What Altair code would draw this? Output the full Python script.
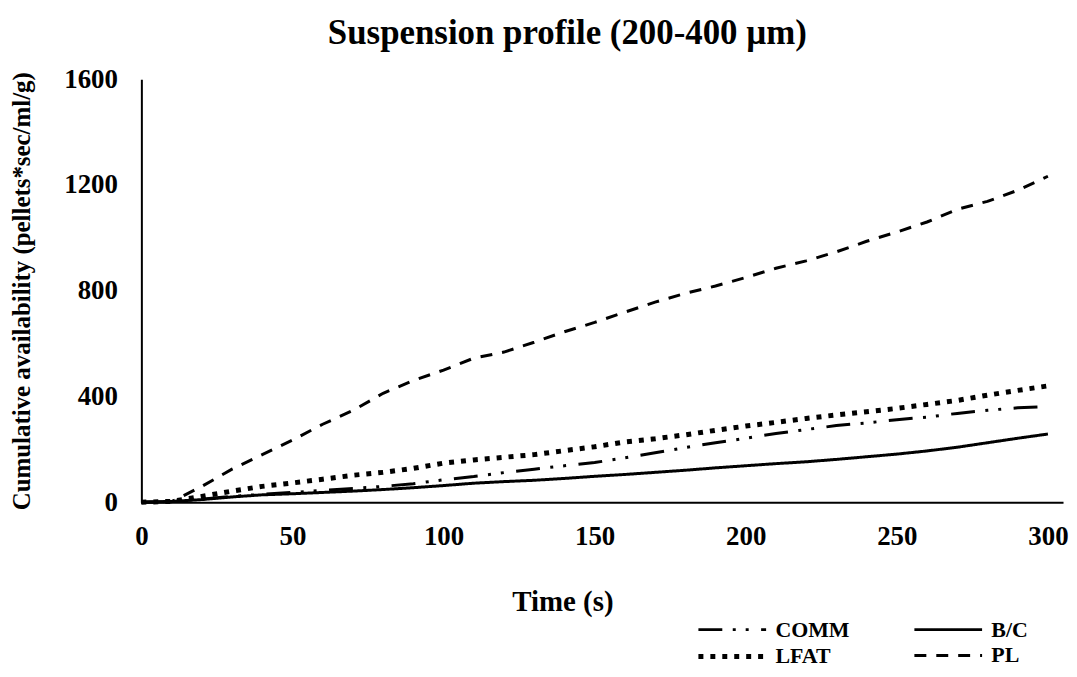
import altair as alt
import pandas as pd

times = [0, 10, 20, 30, 40, 50, 60, 70, 80, 90, 100, 110, 120, 130, 140, 150,
         160, 170, 180, 190, 200, 210, 220, 230, 240, 250, 260, 270, 280, 290, 300]

comm = [0, 2, 12, 22, 30, 37, 45, 52, 60, 70, 85, 97, 112, 125, 138, 150,
        168, 187, 207, 225, 242, 260, 275, 290, 300, 312, 322, 336, 348, 357, 362]
bc = [0, 3, 10, 20, 28, 32, 37, 42, 48, 55, 63, 72, 78, 83, 90, 98,
      105, 113, 121, 130, 138, 146, 153, 162, 172, 182, 194, 208, 225, 242, 258]
lfat = [0, 3, 22, 42, 60, 73, 87, 102, 113, 128, 148, 160, 170, 180, 195, 210,
        228, 240, 255, 272, 288, 302, 317, 330, 342, 355, 370, 385, 405, 423, 440]
pl = [0, 2, 60, 125, 180, 235, 295, 347, 412, 460, 500, 545, 568, 605, 645, 680,
      719, 757, 790, 818, 850, 885, 913, 947, 987, 1022, 1060, 1108, 1138, 1180, 1233]

# legend order: column-major fill -> COMM, LFAT | B/C, PL
series_names = ["COMM", "LFAT", "B/C", "PL"]
series_values = [comm, lfat, bc, pl]
x_ticks = [0, 50, 100, 150, 200, 250, 300]
y_ticks = [0, 400, 800, 1200, 1600]

rows = []
for name, vals in zip(series_names, series_values):
    for t, v in zip(times, vals):
        rows.append({"Time": t, "Value": v, "Series": name})
df = pd.DataFrame(rows)

FONT = "Liberation Serif"

dash_range = [[24, 10.5, 3, 10, 3, 12.5], [5, 7], [1, 0], [12, 10]]
width_range = [3, 5, 3, 3]

legend_kw = dict(title=None, orient="none", legendX=557, legendY=540,
                 columns=2, symbolType="M-1,0H5", symbolSize=514,
                 labelOffset=52, columnPadding=58, rowPadding=2)

chart = alt.Chart(df).mark_line(strokeCap="butt", color="black").encode(
    x=alt.X("Time:Q",
            scale=alt.Scale(domain=[0, 305], nice=False, zero=False),
            axis=alt.Axis(values=x_ticks, title="Time (s)", grid=False, ticks=False,
                          format="d", labelFlush=False, labelOverlap=False, labelPadding=21,
                          titleX=423, titleY=86, titleAlign="center", titleFontSize=29)),
    y=alt.Y("Value:Q",
            scale=alt.Scale(domain=[0, 1600], nice=False),
            axis=alt.Axis(values=y_ticks, title="Cumulative availability (pellets*sec/ml/g)",
                          format="d", grid=False, ticks=False, labelPadding=24,
                          titlePadding=29, titleFontSize=25)),
    strokeDash=alt.StrokeDash("Series:N",
                              scale=alt.Scale(domain=series_names, range=dash_range),
                              legend=alt.Legend(**legend_kw)),
    strokeWidth=alt.StrokeWidth("Series:N",
                                scale=alt.Scale(type="ordinal", domain=series_names, range=width_range),
                                legend=alt.Legend(**legend_kw)),
).properties(
    width=926,
    height=425,
    padding={"left": 134, "top": 70, "right": 6, "bottom": 166},
    autosize=alt.AutoSizeParams(type="none"),
    title=alt.TitleParams("Suspension profile (200-400 µm)", font=FONT, fontSize=35,
                          fontWeight="bold", color="black", anchor="middle", dx=-35, offset=14),
).configure_view(stroke=None).configure_axis(
    labelFont=FONT, labelFontSize=27, labelFontWeight="bold", labelColor="black",
    titleFont=FONT, titleFontWeight="bold", titleColor="black",
    domainColor="black", domainWidth=2,
).configure_legend(
    labelFont=FONT, labelFontSize=22, labelFontWeight="bold", labelColor="black",
    symbolStrokeColor="black", labelLimit=0,
)

chart.save("out.html", embed_options={"renderer": "svg", "actions": False})
